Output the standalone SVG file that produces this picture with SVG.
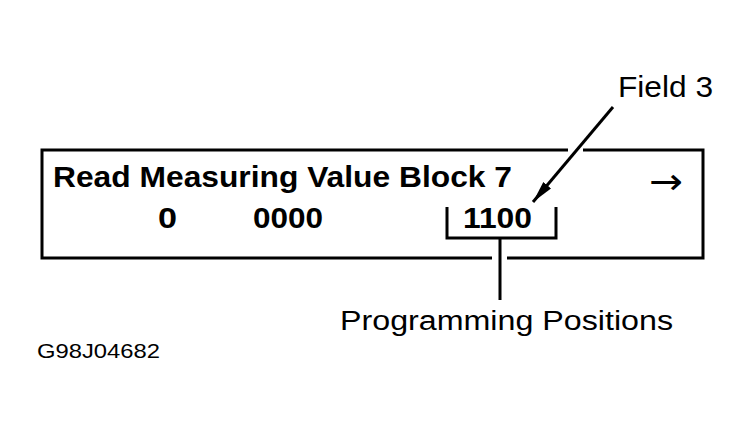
<svg xmlns="http://www.w3.org/2000/svg" width="751" height="436" viewBox="0 0 751 436">
  <defs>
    <style>
      .b { font-family: "Liberation Sans", Arial, sans-serif; font-weight: bold; font-size: 30px; fill: #000; }
      .r { font-family: "Liberation Sans", Arial, sans-serif; font-size: 27px; fill: #000; }
      .ar { font-family: "DejaVu Sans", sans-serif; font-size: 36px; fill: #000; }
      .ln { fill: none; stroke: #000; stroke-width: 3; }
    </style>
    <marker id="ah" markerUnits="userSpaceOnUse" markerWidth="24" markerHeight="12" refX="22" refY="6" orient="auto">
      <path d="M0,1 L22,6 L0,11 Z" fill="#000"/>
    </marker>
  </defs>
  <rect width="751" height="436" fill="#fff"/>
  <g id="display">
    <path class="ln" d="M568,150 H42 V258 H492 M507,258 H703 V150 H583"/>
    <text class="b" x="53" y="187" textLength="459" lengthAdjust="spacingAndGlyphs">Read Measuring Value Block 7</text>
    <text class="b" x="158" y="228" textLength="19" lengthAdjust="spacingAndGlyphs">0</text>
    <text class="b" x="253" y="228" textLength="70" lengthAdjust="spacingAndGlyphs">0000</text>
    <text class="b" x="463" y="228" textLength="69" lengthAdjust="spacingAndGlyphs">1100</text>
    <text class="ar" x="649" y="194" textLength="34" lengthAdjust="spacingAndGlyphs">→</text>
  </g>
  <g id="field3">
    <text class="r" x="618" y="97" style="font-size:29px" textLength="95" lengthAdjust="spacingAndGlyphs">Field 3</text>
  </g>
  <g id="programming">
    <text class="r" x="340" y="330" textLength="333" lengthAdjust="spacingAndGlyphs">Programming Positions</text>
  </g>
  <g id="code">
    <text class="r" x="37" y="358" style="font-size:21px" textLength="123" lengthAdjust="spacingAndGlyphs">G98J04682</text>
  </g>
  <g id="connectors">
    <line class="ln" x1="613" y1="107" x2="533" y2="202" marker-end="url(#ah)"/>
    <path class="ln" d="M447,207 V238 H556 V207 M500,238 V300"/>
  </g>
</svg>
